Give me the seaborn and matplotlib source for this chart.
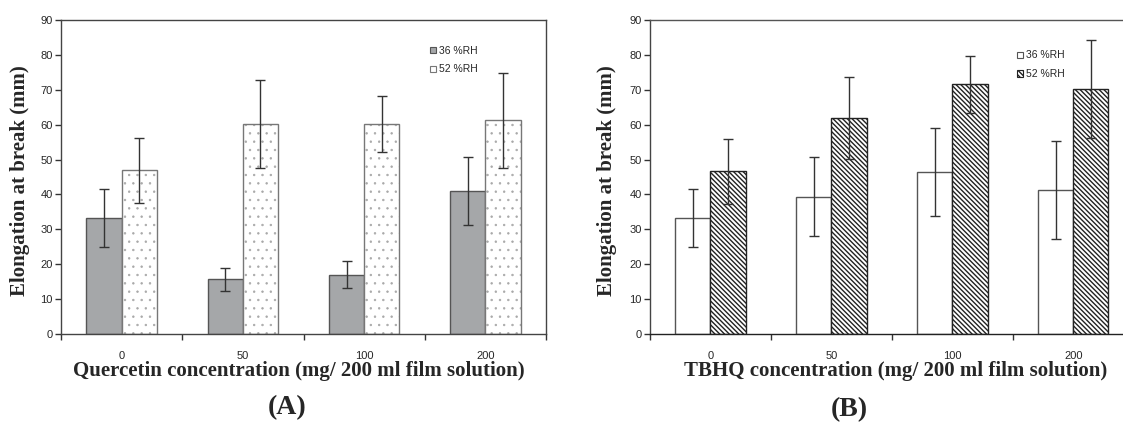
import matplotlib
matplotlib.use("Agg")
import matplotlib.pyplot as plt
from matplotlib.patches import Rectangle
from matplotlib.ticker import FixedLocator, NullFormatter
import numpy as np
import pandas as pd
import seaborn as sns

#%% Data
concentrations = ['0', '50', '100', '200']
humidity = ['36 %RH', '52 %RH']

quercetin_36 = [33.3, 15.7, 17.0, 41.0]
quercetin_36_err = [8.4, 3.3, 3.9, 9.7]
quercetin_52 = [46.9, 60.3, 60.1, 61.3]
quercetin_52_err = [9.3, 12.6, 8.0, 13.6]

tbhq_36 = [33.2, 39.4, 46.4, 41.3]
tbhq_36_err = [8.4, 11.2, 12.6, 14.1]
tbhq_52 = [46.7, 61.9, 71.6, 70.3]
tbhq_52_err = [9.3, 11.7, 8.2, 14.0]


def long_frame(v36, v52):
    return pd.DataFrame({
        'conc': concentrations * 2,
        'rh': [humidity[0]] * 4 + [humidity[1]] * 4,
        'value': v36 + v52,
    })


#%% Figure set up
sns.set_style("white")
plt.rcParams['font.family'] = ['Liberation Sans', 'DejaVu Sans']

fig = plt.figure(figsize=(11.23, 4.30), dpi=100)
ax_a = fig.add_axes([61 / 1123, 96 / 430, 485 / 1123, 314 / 430])
ax_b = fig.add_axes([650 / 1123, 96 / 430, 473 / 1123, 314 / 430])

label_font = dict(family='Liberation Serif', weight='bold', size=15)

# (axes, values..., fills, outline colours, hatch colours, hatches, hatch lw, xlabel, xlim, label x)
panels = [
    (ax_a, quercetin_36, quercetin_36_err, quercetin_52, quercetin_52_err,
     ['#a5a7a9', 'white'], ['#555555', '#777777'], [None, '#a8a8a8'], [None, '..'], 0.5,
     'Quercetin concentration (mg/ 200 ml film solution)', (-0.5, 3.5), 0.49),
    (ax_b, tbhq_36, tbhq_36_err, tbhq_52, tbhq_52_err,
     ['white', 'white'], ['#555555', '#222222'], [None, '#222222'], [None, '\\' * 7], 1.0,
     'TBHQ concentration (mg/ 200 ml film solution)', (-0.5, 3.41), 0.52),
]

for (ax, v36, e36, v52, e52, fills, edges, hcols, hatches, hlw,
     xlabel, xlim, xlab_pos) in panels:
    plt.rcParams['hatch.linewidth'] = hlw
    df = long_frame(v36, v52)
    sns.barplot(data=df, x='conc', y='value', hue='rh', order=concentrations,
                hue_order=humidity, palette=fills, width=0.58, gap=0,
                errorbar=None, legend=False, ax=ax)
    bar_groups = list(ax.containers)

    # styling of the bars + error bars
    for cont, fc, ec, hc, h, errs, vals in zip(bar_groups, fills, edges, hcols, hatches,
                                              [e36, e52], [v36, v52]):
        xs = []
        for p in cont.patches:
            p.set_facecolor(fc)
            p.set_edgecolor(ec)
            p.set_linewidth(1.0)
            if h:
                p.set_hatch(h)
                if hc != ec:
                    # hatch follows the edge colour, so redraw the outline on top
                    p.set_edgecolor(hc)
                    p.set_linewidth(0)
                    ax.add_patch(Rectangle(p.get_xy(), p.get_width(), p.get_height(),
                                           fill=False, edgecolor=ec, linewidth=1.0, zorder=p.get_zorder()))
            xs.append(p.get_x() + p.get_width() / 2)
        ax.errorbar(xs, vals, yerr=errs, fmt='none', ecolor='#333333',
                    elinewidth=1.0, capsize=3.5, capthick=1.0, zorder=3)

    # legend with small square markers
    leg_handles = []
    for c, ec in zip(bar_groups, edges):
        src = c.patches[0]
        leg_handles.append(Rectangle((0, 0), 1, 1, facecolor=src.get_facecolor(),
                                     edgecolor=ec if ax is ax_a else src.get_edgecolor(),
                                     hatch=None if ax is ax_a else src.get_hatch(),
                                     linewidth=0.8))
    ax.legend(handles=leg_handles, labels=humidity,
              frameon=False, fontsize=7.5, handlelength=0.55,
              handleheight=0.55, handletextpad=0.3, labelspacing=0.85,
              borderpad=0, loc='upper left',
              bbox_to_anchor=(0.75, 0.935) if ax is ax_a else (0.765, 0.92))

    ax.set_ylim(0, 90)
    ax.set_xlim(*xlim)
    ax.set_yticks(np.arange(0, 91, 10))
    ax.tick_params(axis='y', direction='out', length=4, width=1, color='#333333',
                   labelsize=8, pad=2, left=True)

    # x tick labels at category centres, tick marks at the boundaries
    ax.set_xticks(range(4))
    ax.set_xticklabels(concentrations)
    ax.tick_params(axis='x', which='major', length=0, labelsize=8, pad=12)
    ax.xaxis.set_minor_locator(FixedLocator([-0.5, 0.5, 1.5, 2.5, 3.5]))
    ax.xaxis.set_minor_formatter(NullFormatter())
    ax.tick_params(axis='x', which='minor', direction='out', length=4, width=1,
                   color='#333333', bottom=True)

    ax.set_xlabel(xlabel, fontdict=label_font)
    ax.xaxis.set_label_coords(xlab_pos, -0.085)
    ax.set_ylabel('Elongation at break (mm)', fontdict=label_font)

    for s in ax.spines.values():
        s.set_color('#444444')
        s.set_linewidth(1.0)

ax_a.yaxis.set_label_coords(-0.064, 0.49)
ax_b.yaxis.set_label_coords(-0.07, 0.49)
ax_b.spines['right'].set_visible(False)
ax_b.spines['bottom'].set_color('#222222')
ax_b.spines['top'].set_color('#555555')

panel_font = dict(family='Liberation Serif', weight='bold', size=20)
fig.text(287 / 1123, 1 - 408 / 430, '(A)', ha='center', va='center', **panel_font)
fig.text(849 / 1123, 1 - 410 / 430, '(B)', ha='center', va='center', **panel_font)

fig.savefig('out.png', dpi=100)
